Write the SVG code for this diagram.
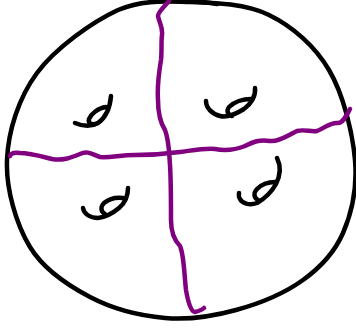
<svg xmlns="http://www.w3.org/2000/svg" width="356" height="328" viewBox="0 0 356 328">
<style>
.ink{fill:none;stroke:#000;stroke-width:4.5;stroke-linecap:round;stroke-linejoin:round}
.div{fill:none;stroke:#800080;stroke-width:4.5;stroke-linecap:round;stroke-linejoin:round}
</style>
<rect width="356" height="328" fill="#fff"/>
<g id="circle">
<path class="ink" d="M190,2 C215.2,2.8 245.8,3.7 269,15 C292.2,26.3 314.7,45.8 329,70 C343.3,94.2 352.7,132.8 355,160 C357.3,187.2 351.7,213 343,233 C334.3,253 320.8,267.2 303,280 C285.2,292.8 259,303.7 236,310 C213,316.3 189.3,320.2 165,318 C140.7,315.8 112.5,308.8 90,297 C67.5,285.2 43.8,269.8 30,247 C16.2,224.2 5.8,189 7,160 C8.2,131 18.5,98 37,73 C55.5,48 92.5,21.8 118,10 C143.5,-0.5 164.8,1.5 190,2"/>
<path class="ink" d="M199,2 C206,2 212,3 217,4" stroke-width="6"/>
</g>
<g id="connectors">
<path class="div" d="M169,1 C163,8 158,12 158,16 C159,22 163,27 162,35 C161,42 162,50 161,60 C159,72 157,85 158,100 C158,112 160,122 165,130 C169,140 169,152 170,165 C171,180 171,200 171,220 C171,232 174,240 180,246 C184,255 184,272 186,290 C188,302 191,312 195,312 C199,311 202,310 204,308"/>
<path class="div" d="M10,156 C11,153 14,152 20,153 C30,153 40,156 52,159 C62,161 70,158 80,154 C88,150 93,155 100,157 C110,158 120,155 135,155 C150,155 165,154 180,152 C195,150 205,148 215,149 C225,151 235,150 245,146 C253,142 260,139 270,141 C280,142 290,134 297,131 C305,129 310,132 317,131 C325,128 330,122 338,123 C343,123 346,116 350,109"/>
</g>
<g id="mark-nw">
<path class="ink" d="M111,96 C110,108 105,118 98,123 C91,127 82,126 75,123"/>
<path class="ink" d="M106,107 C98,108 91,114 89,119 C88,123 91,125 95,124"/>
</g>
<g id="mark-ne">
<path class="ink" d="M255,88 C256,96 251,104 244,109 C236,114 228,118 220,116 C212,114 206,108 206,101"/>
<path class="ink" d="M251,99 C243,99 234,102 229,107 C226,111 228,115 232,116"/>
</g>
<g id="mark-sw">
<path class="ink" d="M128,188 C128,196 125,203 119,208 C113,213 106,217 98,218 C90,218 84,214 83,208"/>
<path class="ink" d="M123,198 C116,197 109,199 104,203 C100,207 101,212 105,214"/>
</g>
<g id="mark-se">
<path class="ink" d="M277,158 C281,166 280,176 276,184 C271,193 264,199 257,203 C249,206 242,203 240,199 C238,196 239,194 239,193"/>
<path class="ink" d="M275,182 C268,182 261,185 257,189 C253,193 254,198 258,200"/>
</g>
</svg>
